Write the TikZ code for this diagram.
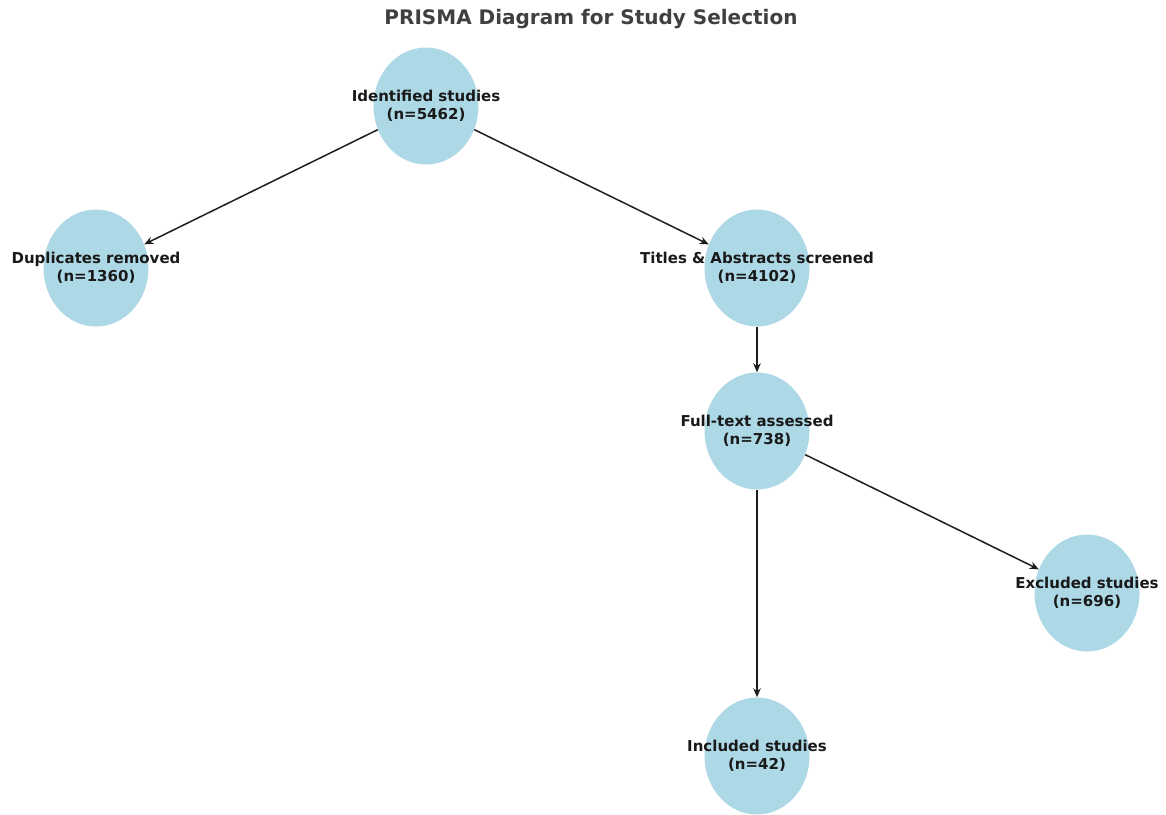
\documentclass[tikz,border=0pt]{standalone}
\usepackage{fontspec}
\setmainfont{DejaVu Sans}
\usetikzlibrary{shapes.geometric,arrows.meta}
\definecolor{nodeblue}{RGB}{173,216,230}
\definecolor{titlegray}{RGB}{64,64,64}
\definecolor{edgegray}{RGB}{30,30,30}
\tikzset{
  stage/.style={ellipse, fill=nodeblue, draw=none, minimum width=105pt, minimum height=117pt, inner sep=0pt},
  lbl/.style={font=\bfseries\fontsize{15}{18}\selectfont, align=center, text=black!90},
  flow/.style={draw=edgegray, line width=1.5pt, -{Stealth[length=9pt,width=7.5pt]}},
}
\begin{document}
\begin{tikzpicture}[x=1pt,y=-1pt]
\useasboundingbox (0,0) rectangle (1166,814);
\node[font=\bfseries\fontsize{20}{24}\selectfont, text=titlegray] (title) at (591,19) {PRISMA Diagram for Study Selection};
\node[stage, label={[lbl]center:Identified studies\\(n=5462)}] (id) at (426,106) {};
\node[stage, label={[lbl]center:Duplicates removed\\(n=1360)}] (dup) at (96,268) {};
\node[stage, label={[lbl]center:Titles \& Abstracts screened\\(n=4102)}] (ta) at (757,268) {};
\node[stage, label={[lbl]center:Full-text assessed\\(n=738)}] (ft) at (757,431) {};
\node[stage, label={[lbl]center:Excluded studies\\(n=696)}] (ex) at (1087,593) {};
\node[stage, label={[lbl]center:Included studies\\(n=42)}] (in) at (757,756) {};
\draw[flow] (id) -- (dup);
\draw[flow] (id) -- (ta);
\draw[flow] (ta) -- (ft);
\draw[flow] (ft) -- (ex);
\draw[flow] (ft) -- (in);
\end{tikzpicture}
\end{document}
